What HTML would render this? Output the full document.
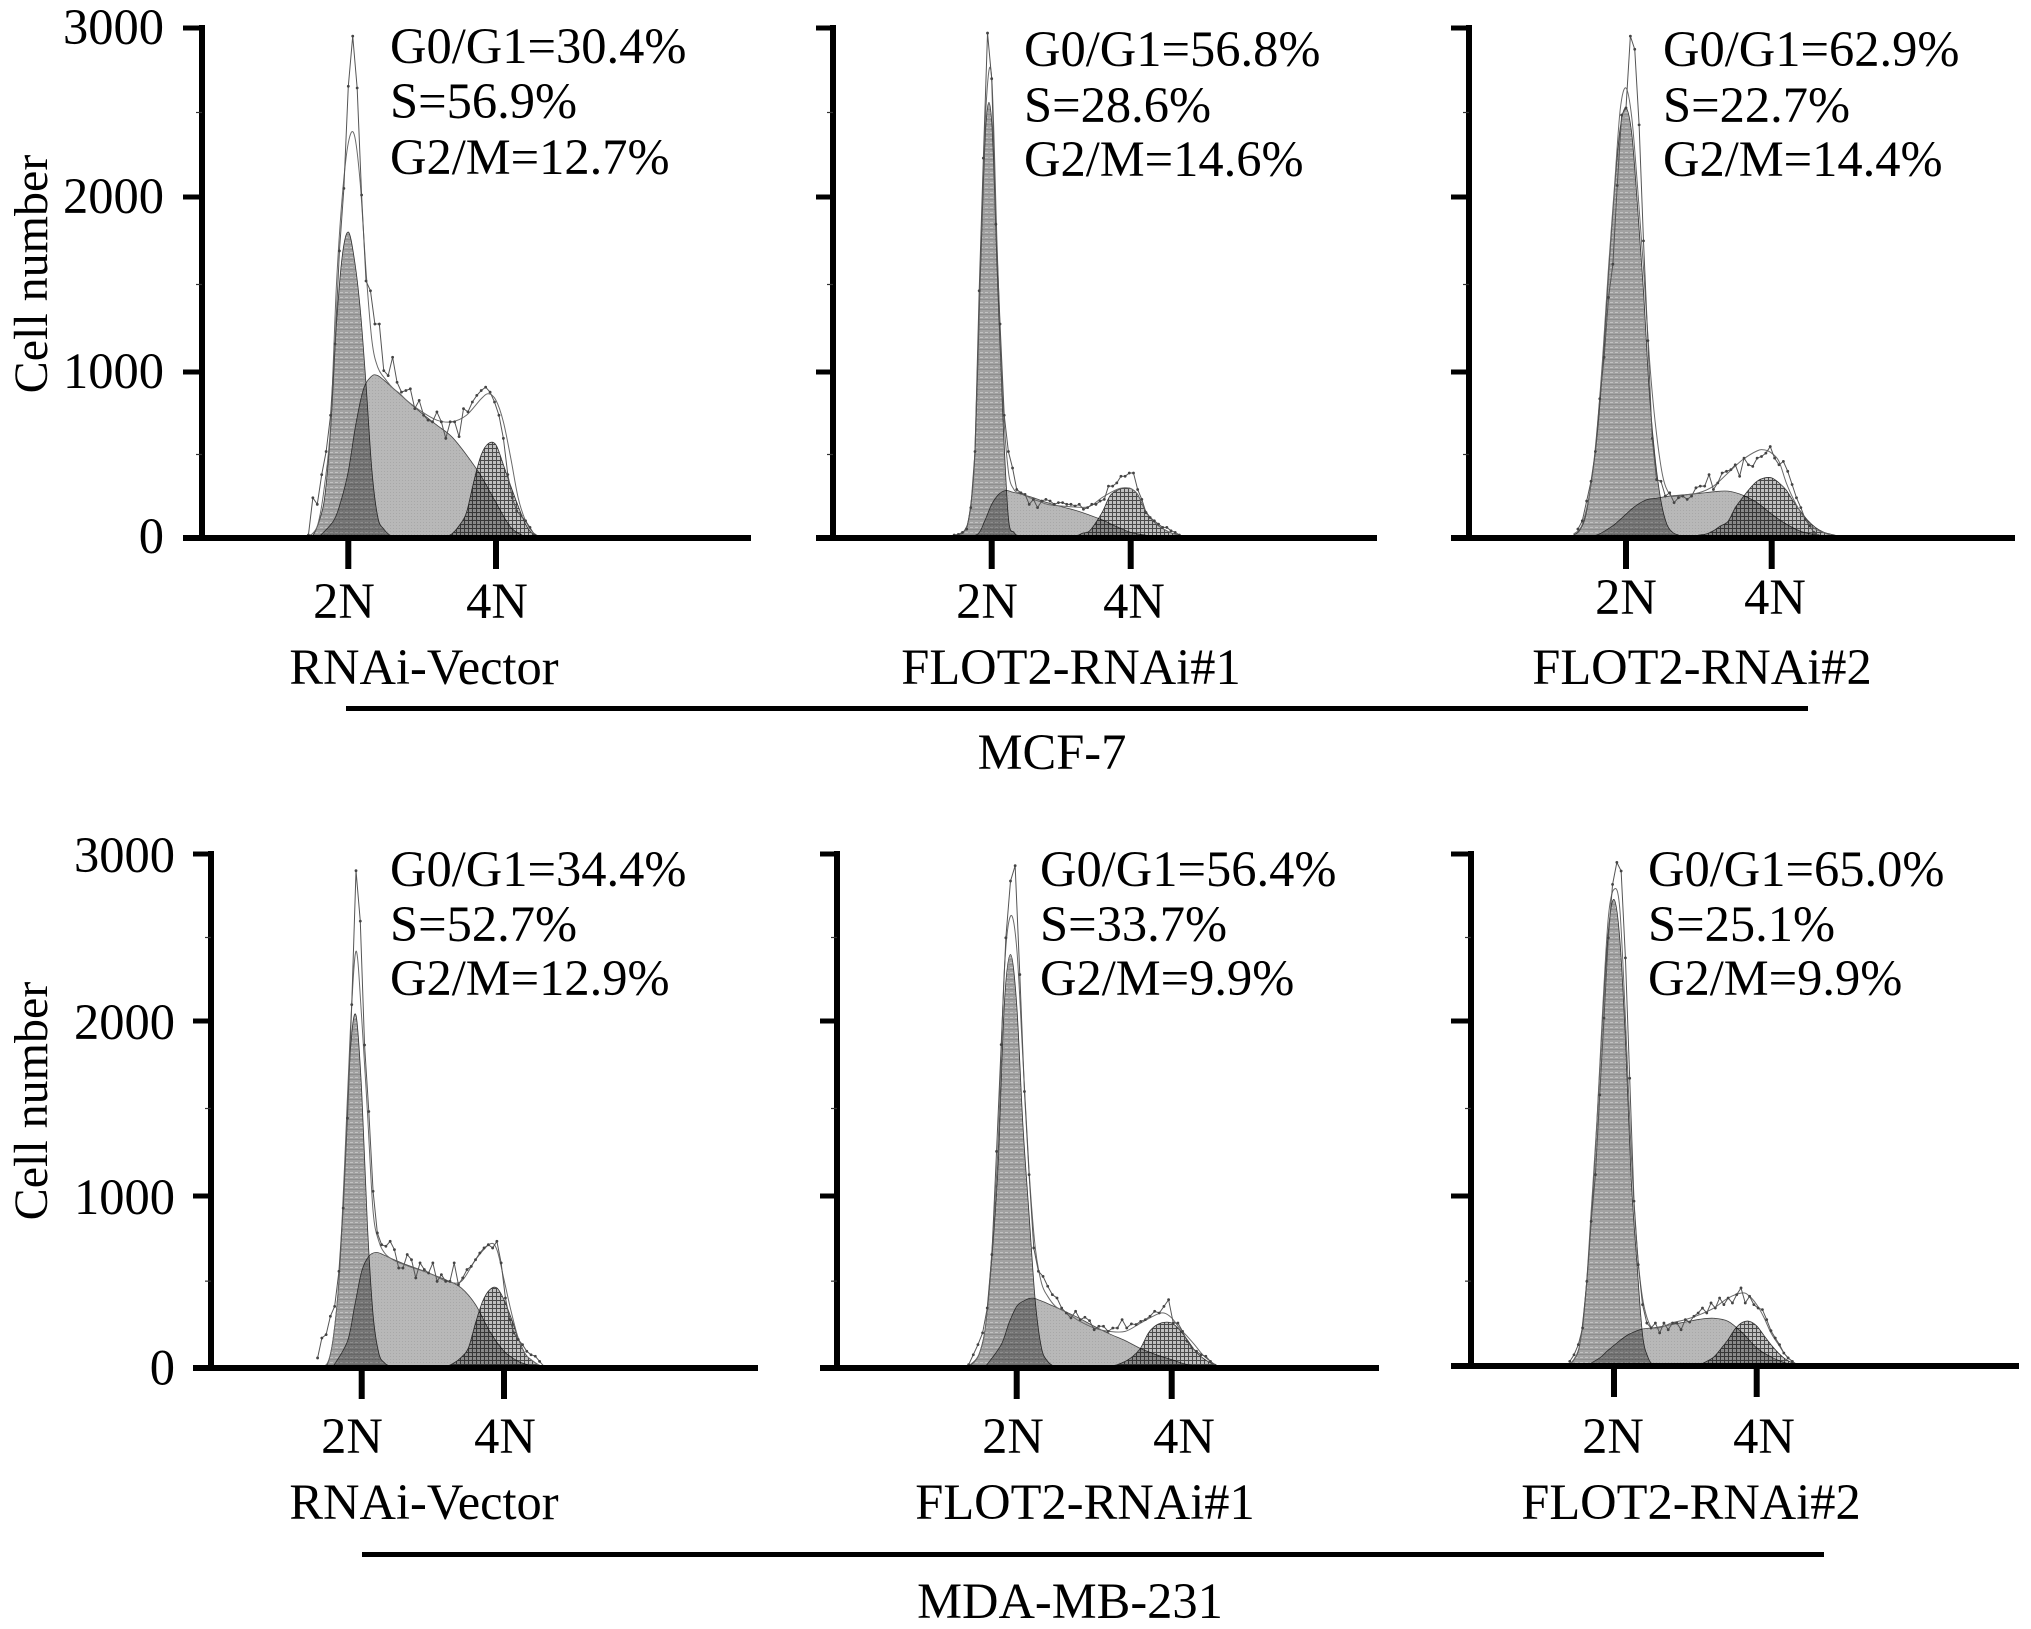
<!DOCTYPE html>
<html lang="en">
<head>
<meta charset="utf-8">
<title>Cell cycle flow cytometry histograms</title>
<style>
html,body{margin:0;padding:0;background:#fff;width:2031px;height:1629px;overflow:hidden}
svg{display:block}
text{font-family:"Liberation Serif",serif;font-size:50.5px;fill:#000}
.stat{font-size:50.5px}
.title{font-size:48px}
</style>
</head>
<body>
<svg id="chart" xmlns="http://www.w3.org/2000/svg" width="2031" height="1629" viewBox="0 0 2031 1629">
<defs>
<pattern id="patG1" width="5" height="5" patternUnits="userSpaceOnUse">
<rect width="5" height="5" fill="#a2a2a2"/>
<rect x="0" y="2" width="3" height="1" fill="#c2c2c2"/>
<rect x="0" y="4" width="5" height="1" fill="#8e8e8e"/>
</pattern>
<pattern id="patS" width="3" height="3" patternUnits="userSpaceOnUse">
<rect width="3" height="3" fill="#b8b8b8"/>
<rect x="0" y="0" width="1" height="1" fill="#a8a8a8"/>
</pattern>
<pattern id="patG2" width="4" height="4" patternUnits="userSpaceOnUse">
<rect width="4" height="4" fill="#c0c0c0"/>
<rect x="0" y="0" width="4" height="1" fill="#4a4a4a"/>
<rect x="0" y="0" width="1" height="4" fill="#4a4a4a"/>
</pattern>
</defs>
<g id="marks"></g>

<text class="title" transform="translate(47,274) rotate(-90)" text-anchor="middle">Cell number</text>
<text class="title" transform="translate(47,1101) rotate(-90)" text-anchor="middle">Cell number</text>

<text class="stat" x="390" y="63">G0/G1=30.4%</text>
<text class="stat" x="390" y="118">S=56.9%</text>
<text class="stat" x="390" y="174">G2/M=12.7%</text>
<text class="stat" x="1024" y="66">G0/G1=56.8%</text>
<text class="stat" x="1024" y="122">S=28.6%</text>
<text class="stat" x="1024" y="176">G2/M=14.6%</text>
<text class="stat" x="1663" y="66">G0/G1=62.9%</text>
<text class="stat" x="1663" y="122">S=22.7%</text>
<text class="stat" x="1663" y="176">G2/M=14.4%</text>

<text class="stat" x="390" y="886">G0/G1=34.4%</text>
<text class="stat" x="390" y="941">S=52.7%</text>
<text class="stat" x="390" y="995">G2/M=12.9%</text>
<text class="stat" x="1040" y="886">G0/G1=56.4%</text>
<text class="stat" x="1040" y="941">S=33.7%</text>
<text class="stat" x="1040" y="995">G2/M=9.9%</text>
<text class="stat" x="1648" y="886">G0/G1=65.0%</text>
<text class="stat" x="1648" y="941">S=25.1%</text>
<text class="stat" x="1648" y="995">G2/M=9.9%</text>

<text x="424" y="684" text-anchor="middle">RNAi-Vector</text>
<text x="1071" y="684" text-anchor="middle">FLOT2-RNAi#1</text>
<text x="1702" y="684" text-anchor="middle">FLOT2-RNAi#2</text>
<text x="424" y="1519" text-anchor="middle">RNAi-Vector</text>
<text x="1085" y="1519" text-anchor="middle">FLOT2-RNAi#1</text>
<text x="1691" y="1519" text-anchor="middle">FLOT2-RNAi#2</text>

<rect x="346" y="706" width="1462" height="5" fill="#000"/>
<text x="1052" y="769" text-anchor="middle">MCF-7</text>
<rect x="362" y="1552" width="1462" height="5" fill="#000"/>
<text x="1070" y="1618" text-anchor="middle">MDA-MB-231</text>
</svg>

<script>
/* Channel grids: 2N = channel 100, 4N = channel 200 */
const g1Channels = [64,68,72,76,80,84,88,92,96,100,104,108,112,116,120,124,128,132,136];
const sChannels = [70,80,90,95,100,105,110,115,120,130,140,150,160,170,180,190,200,210,220,230,240];
const g2Channels = [150,155,160,165,170,175,180,185,190,195,200,205,210,215,220,225,230,235,240,245];
const fitChannels = [64,70,76,80,84,88,92,96,100,104,108,112,116,120,125,130,135,140,150,160,170,180,190,195,200,205,210,215,220,225,230,240];
const rawChannelStep = 3;
const yTickValues = [0,1000,2000,3000];
const yTickLabels = ["0","1000","2000","3000"];
const yMinorValues = [500,1500,2500];
const xTickChannels = [100,200];
const xTickLabels = ["2N","4N"];

/* MCF-7 RNAi-Vector */
const p1G1 = [0,0,0,10,89,240,644,1272,1669,1800,1650,1367,927,402,119,48,12,0,0];
const p1S = [0,0,98,218,398,678,888,968,978,904,824,748,678,608,498,368,208,58,0,0,0];
const p1G2 = [0,0,0,0,18,68,148,338,498,568,558,438,308,188,78,18,0,0,0,0];
const p1Fit = [0,0,22,98,318,678,1502,2012,2320,2370,2090,1578,1178,1026,958,904,868,824,758,708,698,738,838,868,828,698,478,238,98,28,0,0];
const p1RawStart = 73;
const p1Raw = [12,238,198,378,518,738,1160,1692,2051,2655,2952,2645,2012,1520,1464,1274,1274,1008,978,1084,938,878,888,898,778,828,738,708,698,758,698,598,698,698,608,778,758,818,858,888,908,878,818,738,598,378,238,158,128,98,58,12];

/* MCF-7 FLOT2-RNAi#1 */
const p2G1 = [0,0,0,14,34,138,518,1578,2448,2448,1560,738,118,28,0,0,0,0,0];
const p2S = [0,0,18,98,198,258,282,272,262,238,208,184,162,134,102,62,28,12,0,0,0];
const p2G2 = [0,0,0,22,34,88,158,248,282,296,294,258,168,108,68,42,22,12,0,0];
const p2Fit = [0,0,14,34,138,538,1654,2548,2705,1692,838,398,288,268,248,228,214,198,188,182,184,242,288,298,294,258,168,108,68,42,22,0];
const p2RawStart = 73;
const p2Raw = [12,16,28,48,178,518,1464,2230,2970,2700,1844,1274,738,518,418,288,268,258,198,228,178,218,228,218,198,208,208,198,198,188,198,168,178,198,198,218,228,308,308,328,368,368,388,388,288,228,148,118,98,78,58,58,38,28,12];

/* MCF-7 FLOT2-RNAi#2 */
const p3G1 = [12,38,118,318,598,1027,1559,2032,2408,2527,2370,1937,1464,878,478,218,78,28,12];
const p3S = [0,12,62,98,138,178,208,228,234,248,256,264,274,278,254,208,138,78,34,14,0];
const p3G2 = [12,18,38,68,94,178,238,294,338,358,358,328,284,214,154,98,58,32,18,8];
const p3Fit = [18,78,318,638,1084,1597,2051,2515,2645,2467,2051,1597,1084,698,378,258,248,254,268,308,388,468,522,528,508,458,328,228,148,88,48,12];
const p3RawStart = 67;
const p3Raw = [48,98,218,338,518,838,1084,1426,1616,2068,2485,2527,2952,2874,2427,1749,1179,598,348,338,248,268,208,238,248,228,248,298,308,308,378,288,328,388,398,408,438,368,478,438,428,478,488,508,548,478,438,458,398,318,238,178,108,68,28,8];

/* MDA-MB-231 RNAi-Vector */
const p4G1 = [0,0,0,14,166,499,1122,1825,2034,1597,832,303,78,20,0,0,0,0,0];
const p4S = [0,0,147,352,558,646,669,656,636,601,571,538,505,460,362,205,88,29,0,0,0];
const p4G2 = [0,0,0,20,53,108,254,382,450,460,391,284,166,72,33,6,0,0,0,0];
const p4Fit = [0,0,20,166,509,1179,1941,2418,2017,1483,911,735,666,636,613,597,581,568,538,499,499,626,718,685,509,323,166,72,33,6,0,0];
const p4RawStart = 69;
const p4Raw = [49,166,186,294,352,558,929,1445,2098,2900,2598,1863,1483,1027,783,714,705,734,685,577,577,656,626,519,607,568,548,607,499,538,499,499,607,479,519,568,587,626,665,695,714,695,734,607,401,274,196,157,127,88,68,59,29,0];

/* MDA-MB-231 FLOT2-RNAi#1 */
const p5G1 = [0,0,20,78,245,636,1179,2098,2398,2098,1407,890,382,108,29,0,0,0,0];
const p5S = [0,0,127,254,352,386,401,387,368,327,284,235,190,151,104,68,39,10,0,0,0];
const p5G2 = [0,0,0,10,29,59,108,196,241,258,254,215,157,92,49,20,0,0,0,0];
const p5Fit = [0,10,78,245,675,1293,2298,2628,2438,1787,1141,695,489,411,352,327,299,268,225,205,205,254,303,313,284,225,176,124,68,29,0,0];
const p5RawStart = 69;
const p5Raw = [10,68,127,196,342,656,1255,1865,2498,2838,2930,2278,1597,1122,695,558,528,470,421,401,342,313,284,323,274,288,268,215,235,235,205,225,225,274,225,249,245,264,274,294,323,313,352,391,254,254,205,147,108,88,68,59,29,6];

/* MDA-MB-231 FLOT2-RNAi#2 */
const p6G1 = [0,6,39,127,421,851,1423,2018,2538,2728,2498,1900,1107,616,186,49,6,0,0];
const p6S = [0,0,49,88,123,157,186,205,219,229,245,260,276,282,264,196,108,55,20,0,0];
const p6G2 = [0,0,10,29,55,104,157,221,258,264,237,182,127,80,43,20,6,0,0,0];
const p6Fit = [0,20,127,401,910,1423,2058,2618,2788,2678,2018,1255,714,401,245,225,235,254,274,303,342,401,431,411,362,288,196,131,68,29,6,0];
const p6RawStart = 69;
const p6Raw = [29,68,127,225,499,851,1122,1578,2018,2498,2818,2950,2898,2378,1673,970,597,362,254,225,254,196,254,215,254,254,215,274,260,294,313,342,313,372,342,401,362,401,372,421,460,372,411,362,342,333,274,209,166,127,78,49,29,10];

const NS = "http://www.w3.org/2000/svg";
const root = document.getElementById("marks");
const rows = {
  top: { range: [537,372,197,28], labelRight: 164, labelOffset: 16 },
  bottom: { range: [1366.3,1196,1021,854], labelRight: 175, labelOffset: 18 }
};
const panels = [
  { id:"mcf7-vector", row:"top", labelled:true, axisX:202, tickLeft:183, axisEnd:751, axisY:538, x2N:348.3, x4N:496, labelX:[344,497], labelY:618, g1:p1G1, s:p1S, g2:p1G2, fit:p1Fit, raw:p1Raw, rawStart:p1RawStart },
  { id:"mcf7-rnai1", row:"top", labelled:false, axisX:833, tickLeft:816, axisEnd:1377, axisY:538, x2N:991.7, x4N:1130.7, labelX:[987,1134], labelY:618, g1:p2G1, s:p2S, g2:p2G2, fit:p2Fit, raw:p2Raw, rawStart:p2RawStart },
  { id:"mcf7-rnai2", row:"top", labelled:false, axisX:1469, tickLeft:1451, axisEnd:2015, axisY:538, x2N:1626, x4N:1771.7, labelX:[1626,1775], labelY:614, g1:p3G1, s:p3S, g2:p3G2, fit:p3Fit, raw:p3Raw, rawStart:p3RawStart },
  { id:"mda-vector", row:"bottom", labelled:true, axisX:211, tickLeft:193, axisEnd:758, axisY:1368, x2N:361.7, x4N:504, labelX:[352,505], labelY:1453, g1:p4G1, s:p4S, g2:p4G2, fit:p4Fit, raw:p4Raw, rawStart:p4RawStart },
  { id:"mda-rnai1", row:"bottom", labelled:false, axisX:837, tickLeft:820, axisEnd:1379, axisY:1368, x2N:1016.7, x4N:1171.7, labelX:[1013,1184], labelY:1453, g1:p5G1, s:p5S, g2:p5G2, fit:p5Fit, raw:p5Raw, rawStart:p5RawStart },
  { id:"mda-rnai2", row:"bottom", labelled:false, axisX:1471, tickLeft:1451, axisEnd:2019, axisY:1366, x2N:1614, x4N:1756.7, labelX:[1613,1764], labelY:1453, g1:p6G1, s:p6S, g2:p6G2, fit:p6Fit, raw:p6Raw, rawStart:p6RawStart }
];

function yScale(panel, v) {
  const r = rows[panel.row].range;
  const clamped = Math.max(0, Math.min(3000, v));
  const i = Math.min(2, Math.floor(clamped / 1000));
  return r[i] + (r[i + 1] - r[i]) * (clamped - yTickValues[i]) / 1000;
}
function xScale(panel, ch) {
  return panel.x2N + (ch - xTickChannels[0]) * (panel.x4N - panel.x2N) / (xTickChannels[1] - xTickChannels[0]);
}
function make(tag, parent, attrs) {
  const node = document.createElementNS(NS, tag);
  for (const k in attrs) node.setAttribute(k, attrs[k]);
  parent.appendChild(node);
  return node;
}
function smoothPath(pts) {
  let d = "M" + pts[0][0].toFixed(2) + " " + pts[0][1].toFixed(2);
  for (let i = 0; i < pts.length - 1; i++) {
    const p0 = pts[Math.max(0, i - 1)], p1 = pts[i], p2 = pts[i + 1], p3 = pts[Math.min(pts.length - 1, i + 2)];
    const c1x = p1[0] + (p2[0] - p0[0]) / 6, c1y = p1[1] + (p2[1] - p0[1]) / 6;
    const c2x = p2[0] - (p3[0] - p1[0]) / 6, c2y = p2[1] - (p3[1] - p1[1]) / 6;
    d += "C" + c1x.toFixed(2) + " " + c1y.toFixed(2) + " " + c2x.toFixed(2) + " " + c2y.toFixed(2) + " " + p2[0].toFixed(2) + " " + p2[1].toFixed(2);
  }
  return d;
}
function trimZeros(panel, channels, values) {
  let a = 0, b = values.length - 1;
  while (a < b - 1 && values[a + 1] === 0) a++;
  while (b > a + 1 && values[b - 1] === 0) b--;
  const pts = [];
  for (let i = a; i <= b; i++) pts.push([xScale(panel, channels[i]), yScale(panel, values[i])]);
  return pts;
}
function areaPath(panel, channels, values) {
  const pts = trimZeros(panel, channels, values);
  const zero = yScale(panel, 0);
  return smoothPath(pts) + "L" + pts[pts.length - 1][0].toFixed(2) + " " + zero + "L" + pts[0][0].toFixed(2) + " " + zero + "Z";
}

panels.forEach(function (panel) {
  const g = make("g", root, {});
  
  

  const g1Area = make("path", g, { d: areaPath(panel, g1Channels, panel.g1), fill: "url(#patG1)", stroke: "#333", "stroke-width": 0.8, style: "mix-blend-mode:multiply" });
  
  

  const sArea = make("path", g, { d: areaPath(panel, sChannels, panel.s), fill: "url(#patS)", stroke: "#444", "stroke-width": 0.8, style: "mix-blend-mode:multiply" });
  
  

  const g2Area = make("path", g, { d: areaPath(panel, g2Channels, panel.g2), fill: "url(#patG2)", stroke: "#333", "stroke-width": 0.8, style: "mix-blend-mode:multiply" });
  
  

  const fitLine = make("path", g, { d: smoothPath(trimZeros(panel, fitChannels, panel.fit)), fill: "none", stroke: "#6a6a6a", "stroke-width": 1 });
  
  

  const rawPts = panel.raw.map(function (v, i) {
    return [xScale(panel, panel.rawStart + i * rawChannelStep), yScale(panel, v)];
  });
  const rawLine = make("polyline", g, { points: rawPts.map(function (p) { return p[0].toFixed(2) + "," + p[1].toFixed(2); }).join(" "), fill: "none", stroke: "#555", "stroke-width": 1 });
  
  

  rawPts.forEach(function (p) {
    const dot = make("circle", g, { cx: p[0].toFixed(2), cy: p[1].toFixed(2), r: 1.4, fill: "#444" });
    
    
  });

  const yAxis = make("line", g, { x1: panel.axisX, x2: panel.axisX, y1: yScale(panel, 3000) - 3, y2: panel.axisY + 3, stroke: "#000", "stroke-width": 6 });
  
  

  const xAxis = make("line", g, { x1: panel.tickLeft, x2: panel.axisEnd, y1: panel.axisY, y2: panel.axisY, stroke: "#000", "stroke-width": 6 });
  
  

  yTickValues.forEach(function (v, i) {
    const y = v === 0 ? panel.axisY : yScale(panel, v);
    const tick = make("line", g, { x1: panel.tickLeft, x2: panel.axisX, y1: y, y2: y, stroke: "#000", "stroke-width": 5 });
    
    
    if (panel.labelled) {
      const label = make("text", g, { x: rows[panel.row].labelRight, y: yScale(panel, v) + rows[panel.row].labelOffset, "text-anchor": "end" });
      label.textContent = yTickLabels[i];
      
      
    }
  });

  yMinorValues.forEach(function (v) {
    const minor = make("line", g, { x1: panel.axisX - 6, x2: panel.axisX, y1: yScale(panel, v), y2: yScale(panel, v), stroke: "#333", "stroke-width": 1.2 });
    
    
  });

  xTickChannels.forEach(function (ch, i) {
    const x = xScale(panel, ch);
    const tick = make("line", g, { x1: x, x2: x, y1: panel.axisY, y2: panel.axisY + 31, stroke: "#000", "stroke-width": 6 });
    
    
    const label = make("text", g, { x: panel.labelX[i], y: panel.labelY, "text-anchor": "middle" });
    label.textContent = xTickLabels[i];
    
    
  });
});
</script>
</body>
</html>
